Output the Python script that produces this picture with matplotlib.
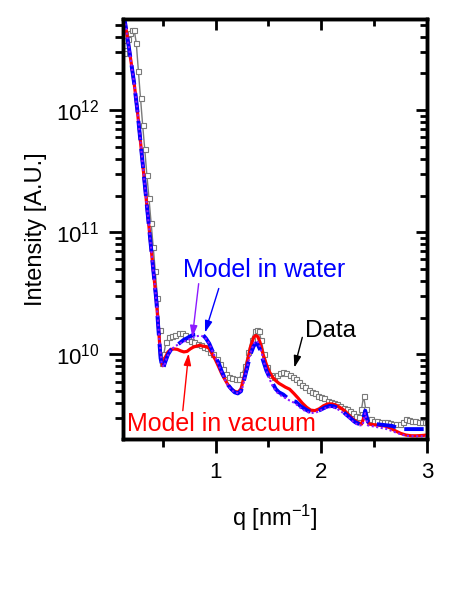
import matplotlib
matplotlib.use("Agg")
import matplotlib.pyplot as plt
import numpy as np
from matplotlib.ticker import MultipleLocator, LogLocator, NullFormatter

# measured data (intensity in units of 1e10)
q_data = [0.13, 0.15, 0.17, 0.19, 0.21, 0.23, 0.25, 0.27, 0.29, 0.31,
          0.33, 0.35, 0.37, 0.39, 0.41, 0.43, 0.45, 0.47, 0.49, 0.51,
          0.53, 0.56, 0.59, 0.62, 0.65, 0.68, 0.71, 0.74, 0.77, 0.80,
          0.83, 0.86, 0.89, 0.92, 0.95, 0.98, 1.01, 1.04, 1.07, 1.10,
          1.13, 1.16, 1.19, 1.22, 1.25, 1.28, 1.31, 1.34, 1.37, 1.39,
          1.41, 1.43, 1.46, 1.49, 1.52, 1.55, 1.58, 1.61, 1.64, 1.67,
          1.70, 1.73, 1.76, 1.79, 1.82, 1.85, 1.88, 1.91, 1.94, 1.97,
          2.00, 2.03, 2.06, 2.09, 2.12, 2.15, 2.18, 2.21, 2.24, 2.27,
          2.30, 2.33, 2.36, 2.38, 2.40, 2.42, 2.44, 2.47, 2.50, 2.53,
          2.56, 2.59, 2.62, 2.65, 2.68, 2.71, 2.74, 2.77, 2.80, 2.83,
          2.86, 2.89, 2.92, 2.95, 2.98, 3.00]
i_data = [295, 339, 380, 427, 457, 457, 355, 209, 126, 76,
          48, 29.5, 19.1, 12.0, 7.6, 4.8, 2.9, 1.58, 0.85, 1.00,
          1.26, 1.38, 1.43, 1.45, 1.50, 1.50, 1.45, 1.35, 1.29, 1.26,
          1.23, 1.20, 1.16, 1.12, 1.05, 1.00, 0.91, 0.84, 0.76, 0.69,
          0.66, 0.64, 0.63, 0.63, 0.69, 0.81, 1.05, 1.32, 1.55, 1.58,
          1.55, 1.32, 1.00, 0.79, 0.68, 0.65, 0.68, 0.71, 0.72, 0.71,
          0.68, 0.65, 0.63, 0.60, 0.56, 0.54, 0.51, 0.49, 0.48, 0.46,
          0.45, 0.44, 0.42, 0.41, 0.40, 0.39, 0.376, 0.363, 0.355, 0.343,
          0.331, 0.316, 0.309, 0.355, 0.457, 0.355, 0.299, 0.295, 0.288, 0.285,
          0.282, 0.280, 0.279, 0.275, 0.272, 0.269, 0.269, 0.282, 0.295, 0.292,
          0.288, 0.285, 0.282, 0.279, 0.279, 0.282]

# model in vacuum (red)
q_vac = [0.12, 0.14, 0.17, 0.20, 0.23, 0.26, 0.29, 0.32, 0.35, 0.38,
         0.41, 0.44, 0.46, 0.48, 0.50, 0.52, 0.55, 0.58, 0.61, 0.64,
         0.67, 0.70, 0.73, 0.76, 0.79, 0.82, 0.85, 0.88, 0.91, 0.94,
         0.97, 1.00, 1.03, 1.06, 1.09, 1.12, 1.15, 1.18, 1.21, 1.24,
         1.27, 1.30, 1.33, 1.36, 1.38, 1.40, 1.42, 1.45, 1.48, 1.51,
         1.54, 1.57, 1.60, 1.63, 1.66, 1.70, 1.74, 1.78, 1.82, 1.86,
         1.90, 1.94, 1.98, 2.02, 2.06, 2.10, 2.14, 2.18, 2.22, 2.26,
         2.30, 2.34, 2.38, 2.40, 2.415, 2.43, 2.45, 2.50, 2.55, 2.60,
         2.65, 2.70, 2.75, 2.80, 2.85, 2.90, 2.95, 3.00]
i_vac = [661, 550, 372, 251, 166, 100, 55, 30.2, 16.6, 9.1,
         5.0, 2.75, 1.66, 0.95, 0.81, 0.93, 1.05, 1.10, 1.11, 1.10,
         1.07, 1.05, 1.06, 1.11, 1.15, 1.17, 1.19, 1.17, 1.16, 1.12,
         1.00, 0.90, 0.79, 0.69, 0.62, 0.56, 0.52, 0.50, 0.49, 0.52,
         0.66, 0.87, 1.15, 1.38, 1.43, 1.40, 1.26, 1.00, 0.83, 0.72,
         0.65, 0.61, 0.58, 0.56, 0.54, 0.52, 0.48, 0.44, 0.40, 0.37,
         0.35, 0.347, 0.359, 0.38, 0.394, 0.394, 0.385, 0.367, 0.347, 0.32,
         0.295, 0.279, 0.269, 0.30, 0.347, 0.30, 0.269, 0.266, 0.263, 0.26,
         0.251, 0.237, 0.226, 0.219, 0.216, 0.216, 0.217, 0.219]

# model in water (blue dashed)
q_wat = [0.12, 0.14, 0.17, 0.20, 0.23, 0.26, 0.29, 0.32, 0.35, 0.38,
         0.41, 0.44, 0.46, 0.48, 0.50, 0.52, 0.55, 0.58, 0.61, 0.64,
         0.67, 0.70, 0.73, 0.76, 0.79, 0.82, 0.85, 0.88, 0.91, 0.94,
         0.97, 1.00, 1.03, 1.06, 1.09, 1.12, 1.15, 1.18, 1.21, 1.24,
         1.27, 1.30, 1.33, 1.36, 1.38, 1.40, 1.42, 1.45, 1.48, 1.51,
         1.54, 1.57, 1.60, 1.64, 1.68, 1.72, 1.76, 1.80, 1.84, 1.88,
         1.92, 1.96, 2.00, 2.04, 2.08, 2.12, 2.16, 2.20, 2.24, 2.28,
         2.32, 2.36, 2.39, 2.415, 2.44, 2.47, 2.52, 2.57, 2.62, 2.67,
         2.72, 2.77, 2.82, 2.90, 3.00]
i_wat = [661, 550, 372, 251, 166, 100, 55, 30.2, 16.6, 9.1,
         5.0, 2.75, 1.58, 0.93, 0.76, 0.85, 1.00, 1.10, 1.15, 1.20,
         1.26, 1.32, 1.36, 1.41, 1.45, 1.46, 1.48, 1.45, 1.35, 1.23,
         1.07, 0.95, 0.85, 0.72, 0.63, 0.56, 0.52, 0.49, 0.48, 0.50,
         0.62, 0.79, 1.00, 1.17, 1.23, 1.20, 1.10, 0.89, 0.74, 0.65,
         0.58, 0.52, 0.49, 0.47, 0.44, 0.42, 0.41, 0.38, 0.36, 0.343,
         0.339, 0.343, 0.355, 0.37, 0.38, 0.376, 0.363, 0.343, 0.32, 0.299,
         0.279, 0.269, 0.282, 0.347, 0.282, 0.269, 0.269, 0.266, 0.263, 0.26,
         0.251, 0.245, 0.245, 0.245, 0.245]

# model in water, second variant (violet dotted)
q_wat2 = [0.12, 0.14, 0.17, 0.20, 0.23, 0.26, 0.29, 0.32, 0.35, 0.38,
          0.41, 0.44, 0.47, 0.49, 0.51, 0.54, 0.58, 0.62, 0.66, 0.70,
          0.74, 0.78, 0.82, 0.86, 0.90, 0.94, 0.98, 1.02, 1.06, 1.10,
          1.14, 1.18, 1.22, 1.25, 1.28, 1.31, 1.34, 1.37, 1.39, 1.41,
          1.44, 1.47, 1.50, 1.54, 1.58, 1.62, 1.66, 1.70, 1.75, 1.80,
          1.85, 1.90, 1.95, 2.00, 2.05, 2.10, 2.15, 2.20, 2.25, 2.30,
          2.35, 2.39, 2.415, 2.44, 2.50, 2.56, 2.62, 2.68, 2.74, 2.80,
          2.88, 2.95, 3.00]
i_wat2 = [661, 550, 372, 251, 166, 100, 55, 30.2, 16.6, 9.1,
          5.0, 2.75, 1.26, 0.85, 0.79, 0.95, 1.10, 1.17, 1.23, 1.27,
          1.32, 1.36, 1.41, 1.43, 1.38, 1.23, 1.02, 0.85, 0.71, 0.59,
          0.52, 0.49, 0.48, 0.52, 0.66, 0.87, 1.10, 1.26, 1.29, 1.23,
          1.00, 0.79, 0.66, 0.55, 0.49, 0.46, 0.44, 0.42, 0.40, 0.367,
          0.343, 0.331, 0.335, 0.351, 0.367, 0.372, 0.359, 0.335, 0.309, 0.282,
          0.263, 0.263, 0.331, 0.263, 0.257, 0.251, 0.245, 0.234, 0.224, 0.216,
          0.214, 0.214, 0.214]

SCALE = 1e10

plt.rcParams["font.family"] = ["Liberation Sans", "DejaVu Sans"]
plt.rcParams["mathtext.fontset"] = "custom"
plt.rcParams["mathtext.rm"] = "Liberation Sans"
plt.rcParams["mathtext.it"] = "Liberation Sans:italic"
plt.rcParams["mathtext.bf"] = "Liberation Sans:bold"

fig = plt.figure(figsize=(4.5, 5.89), dpi=100)
ax = fig.add_axes([0.273, 0.255, 0.676, 0.713])

ax.plot(q_data, np.array(i_data) * SCALE, color="#7a7a7a", lw=1.0,
        marker="s", ms=3.6, mfc="white", mec="#7a7a7a", mew=0.8, zorder=2)
ax.plot(q_vac, np.array(i_vac) * SCALE, color="#ff0000", lw=2.3, zorder=3)
ax.plot(q_wat, np.array(i_wat) * SCALE, color="#0000ff", lw=2.8,
        dashes=(5, 2.2), zorder=4)
ax.plot(q_wat2, np.array(i_wat2) * SCALE, color="#8c1aff", lw=1.5,
        ls=(0, (1, 1.2)), zorder=5)

xlim = (0.123, 3.0)
ylim = (2.04e9, 5.6e12)
ax.set_yscale("log")
ax.set_xlim(*xlim)
ax.set_ylim(*ylim)

ax.xaxis.set_major_locator(MultipleLocator(1))
ax.xaxis.set_minor_locator(MultipleLocator(0.5))
ax.yaxis.set_major_locator(LogLocator(base=10))
ax.yaxis.set_minor_locator(LogLocator(base=10, subs=np.arange(2, 10)))
ax.yaxis.set_minor_formatter(NullFormatter())

ax.tick_params(which="major", direction="out", length=10, width=2,
               labelsize=16, pad=7)
ax.tick_params(which="minor", direction="out", length=6, width=2)
for s in ax.spines.values():
    s.set_linewidth(2.4)

# inward ticks on top and right
axr = ax.twinx()
axr.set_yscale("log")
axr.set_ylim(*ylim)
axr.yaxis.set_major_locator(LogLocator(base=10))
axr.yaxis.set_minor_locator(LogLocator(base=10, subs=np.arange(2, 10)))
axr.tick_params(which="major", direction="in", length=8, width=2, labelright=False)
axr.tick_params(which="minor", direction="in", length=5, width=2)

axt = ax.twiny()
axt.set_xlim(*xlim)
axt.xaxis.set_major_locator(MultipleLocator(1))
axt.xaxis.set_minor_locator(MultipleLocator(0.5))
axt.tick_params(which="major", direction="in", length=8, width=2, labeltop=False)
axt.tick_params(which="minor", direction="in", length=5, width=2)
for a in (axr, axt):
    for s in a.spines.values():
        s.set_linewidth(2.4)

ax.set_xlabel("q [nm$^{-1}$]", fontsize=17, labelpad=14)
ax.set_ylabel("Intensity [A.U.]", fontsize=17, labelpad=6)

# annotations
arrow = dict(arrowstyle="-|>,head_length=0.7,head_width=0.22", lw=1.0,
             shrinkA=0, shrinkB=0)
ax.text(1.46, 4.9e10, "Model in water", color="#0000ff", fontsize=18,
        ha="center", va="center", zorder=6)
ax.annotate("", xy=(0.78, 1.38e10), xytext=(0.84, 3.8e10),
            arrowprops=dict(arrow, color="#8c1aff"), zorder=6)
ax.annotate("", xy=(0.90, 1.51e10), xytext=(1.03, 3.47e10),
            arrowprops=dict(arrow, color="#0000ff"), zorder=6)

ax.text(2.085, 1.57e10, "Data", color="black", fontsize=17.5,
        ha="center", va="center", zorder=6)
ax.annotate("", xy=(1.745, 7.8e9), xytext=(1.82, 1.38e10),
            arrowprops=dict(arrow, color="black"), zorder=6)

ax.text(1.057, 2.72e9, "Model in vacuum", color="#ff0000", fontsize=18,
        ha="center", va="center", zorder=6)
ax.annotate("", xy=(0.745, 1.02e10), xytext=(0.69, 3.47e9),
            arrowprops=dict(arrow, color="#ff0000"), zorder=6)

fig.savefig("out.png", dpi=100)
